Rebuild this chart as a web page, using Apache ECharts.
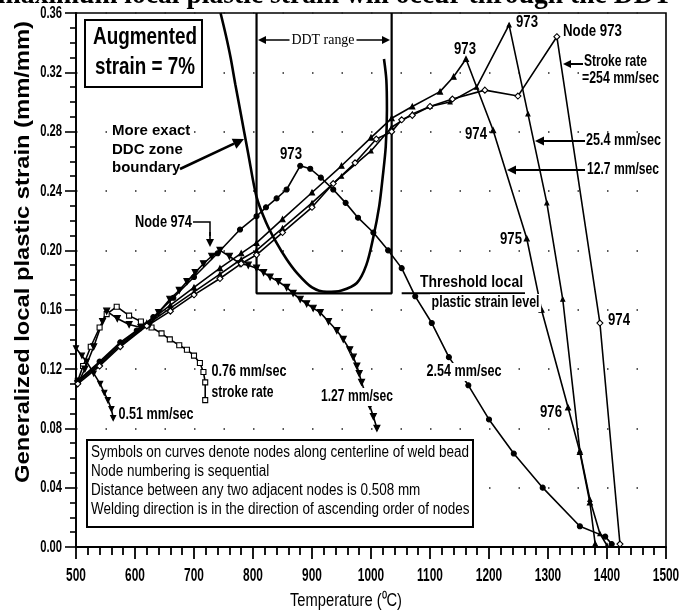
<!DOCTYPE html>
<html><head><meta charset="utf-8">
<script src="https://cdn.jsdelivr.net/npm/echarts@6/dist/echarts.min.js"></script>
<style>html,body{margin:0;padding:0;background:#fff}#c{width:684px;height:614px}</style>
</head><body><div id="c"></div>
<script>
// ---- axis ticks ----
const xTickLabels = [500,600,700,800,900,1000,1100,1200,1300,1400,1500];
const yTickLabels = [0.00,0.04,0.08,0.12,0.16,0.20,0.24,0.28,0.32,0.36];

// ---- stroke-rate curves (temperature degC, strain mm/mm) ----
const t051 = [500,510,518,530,541,548,554,560,563];
const v051 = [0.134,0.129,0.125,0.117,0.110,0.104,0.099,0.093,0.087];

const t076 = [503,512,525,540,552,569,590,610,628,645,659,675,688,700,710,716,719,719];
const v076 = [0.112,0.122,0.135,0.148,0.157,0.162,0.156,0.152,0.148,0.144,0.140,0.136,0.133,0.129,0.124,0.118,0.111,0.099];

const t127 = [503,515,530,545,552,570,590,610,625,640,659,675,688,702,716,730,744,760,778,792,806,818,829,843,857,868,880,891,902,914,928,942,953,964,970,976,980,984,991,998,1004,1010];
const v127 = [0.110,0.120,0.135,0.152,0.159,0.154,0.150,0.148,0.150,0.158,0.167,0.173,0.179,0.185,0.191,0.196,0.200,0.196,0.191,0.190,0.188,0.185,0.182,0.179,0.175,0.171,0.167,0.164,0.161,0.158,0.152,0.146,0.140,0.133,0.128,0.122,0.117,0.111,0.103,0.095,0.088,0.080];

const t254 = [503,540,575,603,631,665,700,740,778,806,822,840,857,880,897,915,936,957,978,1004,1029,1052,1075,1103,1132,1165,1200,1242,1291,1354,1397,1408];
const v254 = [0.112,0.125,0.138,0.146,0.155,0.168,0.182,0.198,0.214,0.223,0.229,0.235,0.241,0.257,0.255,0.249,0.241,0.232,0.222,0.212,0.200,0.188,0.169,0.151,0.128,0.109,0.086,0.063,0.040,0.014,0.007,0.002];

const t1270 = [503,540,575,620,660,700,744,780,806,850,900,950,1000,1035,1070,1117,1140,1161,1207,1264,1289,1334,1354,1371,1380];
const v1270 = [0.112,0.124,0.137,0.151,0.163,0.175,0.188,0.198,0.205,0.221,0.239,0.257,0.276,0.289,0.297,0.307,0.317,0.329,0.281,0.208,0.160,0.094,0.064,0.030,0.002];

const t2540 = [503,540,575,620,660,700,744,780,806,850,900,950,1000,1035,1070,1100,1134,1179,1234,1266,1298,1325,1354,1371,1388,1400];
const v2540 = [0.111,0.123,0.136,0.150,0.161,0.172,0.184,0.194,0.200,0.215,0.232,0.250,0.267,0.283,0.292,0.297,0.300,0.310,0.352,0.292,0.232,0.167,0.065,0.032,0.009,0.001];

const t25400 = [503,540,575,620,660,700,744,780,806,850,900,936,973,1009,1035,1052,1070,1100,1138,1193,1249,1315,1388,1422];
const v25400 = [0.110,0.122,0.135,0.149,0.159,0.170,0.181,0.191,0.197,0.212,0.229,0.245,0.259,0.275,0.280,0.288,0.291,0.297,0.302,0.308,0.304,0.344,0.151,0.002];

// ---- DDC zone boundary ----
const tDDC = [745,754,762,770,778,792,806,822,840,857,874,900,925,950,976,992,1004,1014,1020,1025,1027,1026,1022];
const vDDC = [0.360,0.345,0.330,0.312,0.295,0.265,0.236,0.219,0.205,0.194,0.185,0.175,0.172,0.173,0.178,0.190,0.209,0.230,0.250,0.270,0.295,0.315,0.329];

// ---- DDT range box and threshold ----
const tDDT = [806,806,1035,1035];
const vDDT = [0.360,0.171,0.171,0.360];
const tThr = [1052,1261];
const vThr = [0.171,0.171];

const pairs = (t,v) => t.map((x,i)=>[x,v[i]]);
const SF = '"Liberation Sans",Arial,sans-serif';
const mctx = document.createElement('canvas').getContext('2d');
function measure(s,font){mctx.font=font;return mctx.measureText(s).width;}

function curve(name,t,v,symbol,size,fill,rot){
  return {type:'line',name,data:pairs(t,v),symbol,symbolSize:size,symbolRotate:rot||0,
    showAllSymbol:true,animation:false,z:3,
    lineStyle:{color:'#000',width:1.6},
    itemStyle:{color:fill,borderColor:'#000',borderWidth:1.1}};
}

const chart = echarts.init(document.getElementById('c'),null,{renderer:'canvas'});

chart.setOption({
  animation:false,
  backgroundColor:'#fff',
  grid:{left:76,right:18,top:13,bottom:67,show:true,borderColor:'#000',borderWidth:1.6},
  xAxis:{type:'value',min:500,max:1500,interval:100,
    axisLine:{lineStyle:{color:'#000',width:1.8}},
    axisTick:{show:true,inside:false,length:12,lineStyle:{color:'#000',width:1.8}},
    minorTick:{show:true,splitNumber:5,length:8,lineStyle:{color:'#000',width:1.8}},
    axisLabel:{show:false},
    splitLine:{show:false}},
  yAxis:{type:'value',min:0,max:0.36,interval:0.04,
    axisLine:{lineStyle:{color:'#000',width:1.8}},
    axisTick:{show:true,inside:false,length:11,lineStyle:{color:'#000',width:1.6}},
    minorTick:{show:true,splitNumber:4,length:6,lineStyle:{color:'#000',width:1.6}},
    axisLabel:{show:false},
    splitLine:{show:true,lineStyle:{type:[1.5,28],color:'#222',width:1.5}}},
  series:[
    {type:'line',name:'DDT box',data:pairs(tDDT,vDDT),symbol:'none',animation:false,z:2,
      lineStyle:{color:'#000',width:2.2}},
    {type:'line',name:'Threshold',data:pairs(tThr,vThr),symbol:'none',animation:false,z:2,
      lineStyle:{color:'#000',width:2}},
    {type:'line',name:'DDC boundary',data:pairs(tDDC,vDDC),symbol:'none',smooth:0.3,animation:false,z:2,
      lineStyle:{color:'#000',width:2.6}},
    curve('0.51 mm/sec',t051,v051,'triangle',5,'#000',180),
    curve('0.76 mm/sec',t076,v076,'rect',5,'#fff'),
    curve('1.27 mm/sec',t127,v127,'triangle',6,'#000',180),
    curve('2.54 mm/sec',t254,v254,'circle',5,'#000'),
    curve('12.7 mm/sec',t1270,v1270,'triangle',5,'#000'),
    curve('25.4 mm/sec',t2540,v2540,'triangle',4,'#000'),
    curve('254 mm/sec',t25400,v25400,'diamond',6,'#fff')
  ]
});

function arrow(x1,y1,x2,y2,head,w){
  head=head||7; w=w||1.6;
  const dx=x2-x1, dy=y2-y1, L=Math.hypot(dx,dy), ux=dx/L, uy=dy/L;
  const bx=x2-ux*head, by=y2-uy*head, nx=-uy, ny=ux, hw=head*0.5;
  return [
    {type:'line',z:50,shape:{x1,y1,x2:bx,y2:by},style:{stroke:'#000',lineWidth:w}},
    {type:'polygon',z:50,shape:{points:[[x2,y2],[bx+nx*hw,by+ny*hw],[bx-nx*hw,by-ny*hw]]},style:{fill:'#000'}}
  ];
}
// text; o: {size,bold,align,bg,fit,sx,rot,family,va}
function T(s,x,y,o){
  o=o||{};
  const font=(o.bold===false?'':'bold ')+(o.size||16)+'px '+(o.family||SF);
  const sx=o.fit?o.fit/measure(s,font):(o.sx||1);
  const st={text:s,x:0,y:0,font,fill:'#000',align:o.align||'left',verticalAlign:o.va||'middle'};
  if(o.bg){st.backgroundColor='#fff';st.padding=[1,2];}
  return {type:'text',z:60,x,y,scaleX:sx,rotation:o.rot||0,style:st};
}

const graphics = [
  T('maximum local plastic strain will occur through the DDT',672,-5,
    {size:30,family:'"Liberation Serif",serif',align:'right',sx:0.92}),
  {type:'rect',z:40,shape:{x:85,y:20,width:117,height:67},style:{fill:'#fff',stroke:'#000',lineWidth:2}},
  T('Augmented',145,37,{size:24,align:'center',fit:104}),
  T('strain = 7%',145,67,{size:24,align:'center',fit:100}),
  T('More exact',112,131,{size:15}),
  T('DDC zone',112,150,{size:15}),
  T('boundary',112,168,{size:15}),
  ...arrow(180,169,244,139,11,2.6),
  ...arrow(300,40,258,40,8,1.6),
  ...arrow(347,40,390,40,8,1.6),
  T('DDT range',323,40,{size:14,bold:false,family:'"Liberation Serif",serif',align:'center',bg:true,fit:63}),
  T('973',291,155,{size:16,align:'center',fit:22}),
  T('973',465,50,{size:16,align:'center',fit:22}),
  T('973',527,23,{size:16,align:'center',fit:22}),
  T('Node 973',563,32,{size:16,fit:59}),
  T('Stroke rate',584,62,{size:16,fit:63}),
  T('=254 mm/sec',582,79,{size:16,fit:77}),
  ...arrow(583,64,563,64,8,2),
  T('25.4 mm/sec',586,141,{size:16,fit:75}),
  ...arrow(585,141,535,141,9,2.2),
  T('12.7 mm/sec',587,170,{size:16,fit:72}),
  ...arrow(585,170,507,170,9,2.2),
  T('974',476,135,{size:16,align:'center',fit:22}),
  T('975',511,240,{size:16,align:'center',fit:22}),
  T('974',608,321,{size:16,fit:22}),
  T('976',551,413,{size:16,align:'center',fit:22}),
  T('Threshold local',420,283,{size:16,fit:103}),
  T('plastic strain level',430,303,{size:16,fit:108,bg:true}),
  T('2.54 mm/sec',464,372,{size:16,align:'center',fit:75,bg:true}),
  T('1.27 mm/sec',357,397,{size:16,align:'center',fit:72,bg:true}),
  T('0.76 mm/sec',210,372,{size:16,fit:75,bg:true}),
  T('stroke rate',210,393,{size:16,fit:62,bg:true}),
  T('0.51 mm/sec',117,415,{size:16,fit:75,bg:true}),
  T('Node 974',135,223,{size:16,fit:57}),
  {type:'polyline',z:50,shape:{points:[[193,222],[210,222],[210,236]]},style:{stroke:'#000',lineWidth:1.5,fill:null}},
  ...arrow(210,232,210,247,8,1.6),
  {type:'rect',z:40,shape:{x:87,y:440,width:386,height:87},style:{fill:'#fff',stroke:'#000',lineWidth:2}}
];
const notes = ['Symbols on curves denote nodes along centerline of weld bead','Node numbering is sequential',
  'Distance between any two adjacent nodes is 0.508 mm','Welding direction is in the direction of ascending order of nodes'];
const nFont = '16px '+SF;
const nScale = 378/measure(notes[0],nFont);
notes.forEach((s,i)=>graphics.push(T(s,91,453+i*19,{size:16,bold:false,sx:nScale})));

// tick labels placed through the axes' own scales
xTickLabels.forEach(v=>{
  const px = chart.convertToPixel({xAxisIndex:0},v);
  graphics.push(T(String(v),px,576,{size:18,align:'center',sx:0.66}));
});
yTickLabels.forEach(v=>{
  const py = chart.convertToPixel({yAxisIndex:0},v);
  graphics.push(T(v.toFixed(2),62,py,{size:17,align:'right',sx:0.66}));
});
// axis titles
const yName='Generalized local plastic strain (mm/mm)';
graphics.push(T(yName,23,252,{size:20,align:'center',rot:Math.PI/2,fit:462}));
graphics.push(T('Temperature (\u2070C)',346,601,{size:18,bold:false,align:'center',fit:112}));

chart.setOption({graphic:graphics});
</script></body></html>
